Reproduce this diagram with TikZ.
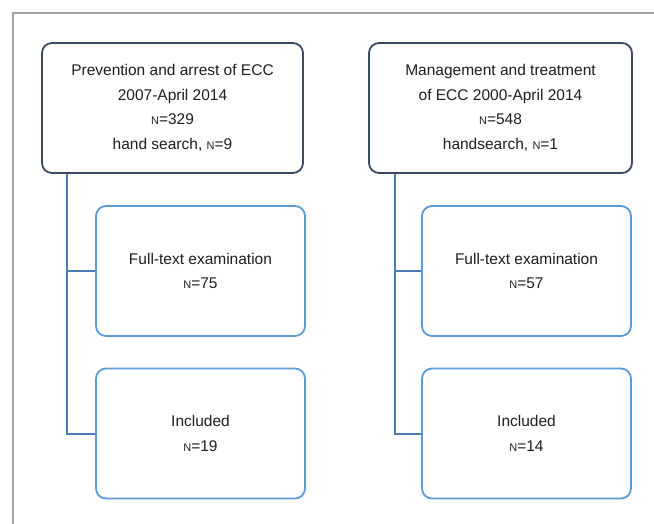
\documentclass[tikz,border=0pt]{standalone}
\usepackage{fontspec}
\setmainfont{Liberation Sans}
\usepackage{tikz}
\usetikzlibrary{positioning}

\definecolor{navybox}{HTML}{3B4B62}
\definecolor{lightbox}{HTML}{5B9BD5}
\definecolor{linkblue}{HTML}{4A7DB4}
\definecolor{txtgray}{HTML}{1E1E1E}

% small-capital N used for sample sizes
\newcommand{\capN}{{\fontsize{11}{11}\selectfont N}}

\begin{document}
\begin{tikzpicture}[
    x=1pt, y=-1pt,
    font=\fontsize{15.5}{24.5}\selectfont,
    text=txtgray,
    blk/.style={rounded corners=10pt, line width=1.8pt, align=center, fill=white, inner sep=0pt},
    topbox/.style={blk, draw=navybox, minimum height=130pt},
    subbox/.style={blk, draw=lightbox, minimum width=209pt, minimum height=130pt},
    link/.style={draw=linkblue, line width=2pt},
    frame/.style={draw=black!36, line width=2.6pt},
  ]
    \useasboundingbox (0,0) rectangle (654,524);
    \draw[frame] (13,524) -- (13,13) -- (654,13);

    % left column
    \node[topbox, minimum width=261pt] (prev) at (172.5,108)
      {Prevention and arrest of ECC\\2007-April 2014\\\capN=329\\hand search, \capN=9};
    \node[subbox] (prevfull) at (200.5,271) {Full-text examination\\\capN=75};
    \node[subbox] (previnc)  at (200.5,433.5) {Included\\\capN=19};

    % right column
    \node[topbox, minimum width=263pt] (mgmt) at (500.5,108)
      {Management and treatment\\of ECC 2000-April 2014\\\capN=548\\handsearch, \capN=1};
    \node[subbox] (mgmtfull) at (526.5,271) {Full-text examination\\\capN=57};
    \node[subbox] (mgmtinc)  at (526.5,433.5) {Included\\\capN=14};

    \coordinate (prevspine) at ([xshift=26pt]prev.south west);
    \coordinate (mgmtspine) at ([xshift=27pt]mgmt.south west);

    \draw[link] (prevspine) |- (previnc.west);
    \draw[link] (prevfull.west) -- (prevfull.west -| prevspine);
    \draw[link] (mgmtspine) |- (mgmtinc.west);
    \draw[link] (mgmtfull.west) -- (mgmtfull.west -| mgmtspine);
  \end{tikzpicture}
\end{document}
